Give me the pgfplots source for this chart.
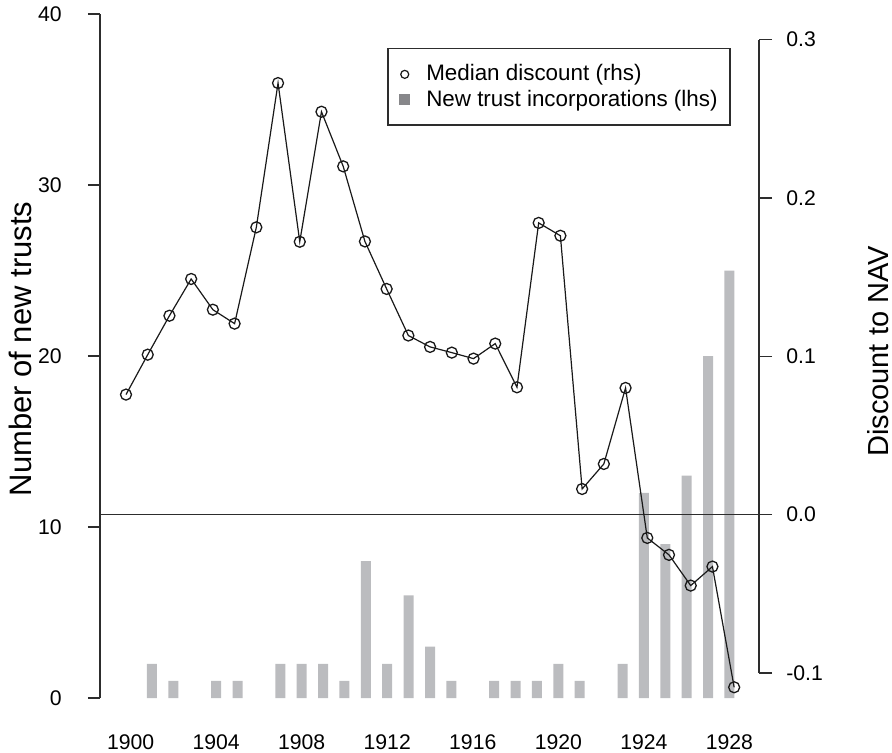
\documentclass[border=0pt]{standalone}
\usepackage{fontspec}
\setmainfont{Liberation Sans}
\usepackage{pgfplots}
\pgfplotsset{compat=1.18}
\definecolor{barc}{RGB}{187,188,191}
\definecolor{legsq}{RGB}{135,135,138}
\definecolor{axc}{RGB}{45,45,45}
\begin{document}
\begin{tikzpicture}
\useasboundingbox (0pt,0pt) rectangle (446pt,376pt);
\begin{axis}[
  at={(50pt,27pt)}, anchor=south west, scale only axis,
  width=336pt, height=342pt,
  xmin=1898.57, xmax=1929.99, ymin=0, ymax=40,
  axis lines*=left,
  x axis line style={draw=none},
  y axis line style={axc, line width=0.75pt},
  xtick={1900,1904,...,1928},
  xticklabels={1900,1904,1908,1912,1916,1920,1924,1928},
  xtick style={draw=none},
  xticklabel style={anchor=north, inner sep=0pt, yshift=-12pt, font=\fontsize{10.6}{12}\selectfont},
  ytick={0,10,20,30,40},
  yticklabels={0,10,20,30,40},
  ytick style={axc, line width=0.75pt},
  tick align=outside, major tick length=6pt,
  yticklabel style={anchor=east, inner sep=0pt, xshift=-13pt, font=\fontsize{10.6}{12}\selectfont},
  ylabel={Number of new trusts},
  ylabel style={at={(axis description cs:-0.1012,0.5102)}, anchor=base, font=\fontsize{15.5}{18}\selectfont},
  clip=false,
]
\addplot[ybar, bar width=5pt, fill=barc, draw=none] coordinates {
(1901,2) (1902,1) (1904,1) (1905,1) (1907,2) (1908,2) (1909,2) (1910,1)
(1911,8) (1912,2) (1913,6) (1914,3) (1915,1) (1917,1) (1918,1) (1919,1)
(1920,2) (1921,1) (1923,2) (1924,12) (1925,9) (1926,13) (1927,20) (1928,25)
};
\end{axis}
\begin{axis}[
  at={(50pt,39.5pt)}, anchor=south west, scale only axis,
  width=329.5pt, height=316.75pt,
  xmin=1898.803, xmax=1929.144, ymin=-0.1, ymax=0.3,
  axis x line=none, axis y line*=right,
  y axis line style={axc, line width=0.75pt},
  ytick={-0.1,0,0.1,0.2,0.3},
  yticklabels={-0.1,0.0,0.1,0.2,0.3},
  ytick style={axc, line width=0.75pt},
  tick align=outside, major tick length=6.5pt,
  yticklabel style={anchor=west, inner sep=0pt, xshift=7pt, font=\fontsize{10.6}{12}\selectfont},
  ylabel={Discount to NAV},
  ylabel style={at={(axis description cs:1.1958,0.5075)}, anchor=base, font=\fontsize{14.5}{17}\selectfont},
  clip=false,
  legend image code/.code={\draw[#1] plot[only marks] coordinates {(0pt,0pt)};},
  legend cell align=left,
  legend style={at={(axis description cs:0.4355,0.9866)}, anchor=north west,
    draw=axc, line width=0.75pt, inner xsep=6.25pt, inner ysep=8pt,
    font=\fontsize{11.2}{13.5}\selectfont, row sep=3pt, nodes={inner sep=0pt},
    /tikz/every odd column/.append style={column sep=8.5pt}},
]
\addplot[axc, line width=0.75pt, forget plot] coordinates {(1898.849,0) (1929.742,0)};
\addplot[black!90, line width=0.6pt, mark=o, mark size=2.75pt, mark options={line width=0.65pt}, forget plot] coordinates {
(1900,0.0758) (1901,0.1010) (1902,0.1256) (1903,0.1488) (1904,0.1294)
(1905,0.1206) (1906,0.1814) (1907,0.2725) (1908,0.1723) (1909,0.2544)
(1910,0.2199) (1911,0.1725) (1912,0.1425) (1913,0.1131) (1914,0.1059)
(1915,0.1023) (1916,0.0985) (1917,0.1080) (1918,0.0804) (1919,0.1842)
(1920,0.1761) (1921,0.0162) (1922,0.0320) (1923,0.0800) (1924,-0.0147)
(1925,-0.0254) (1926,-0.0448) (1927,-0.0328) (1928,-0.1090)
};
\addlegendimage{mark=o, mark size=2pt, black!90, line width=0.6pt}
\addlegendentry{Median discount (rhs)}
\addlegendimage{mark=square*, mark size=2.25pt, draw=legsq, fill=legsq}
\addlegendentry{New trust incorporations (lhs)}
\end{axis}
\end{tikzpicture}
\end{document}
